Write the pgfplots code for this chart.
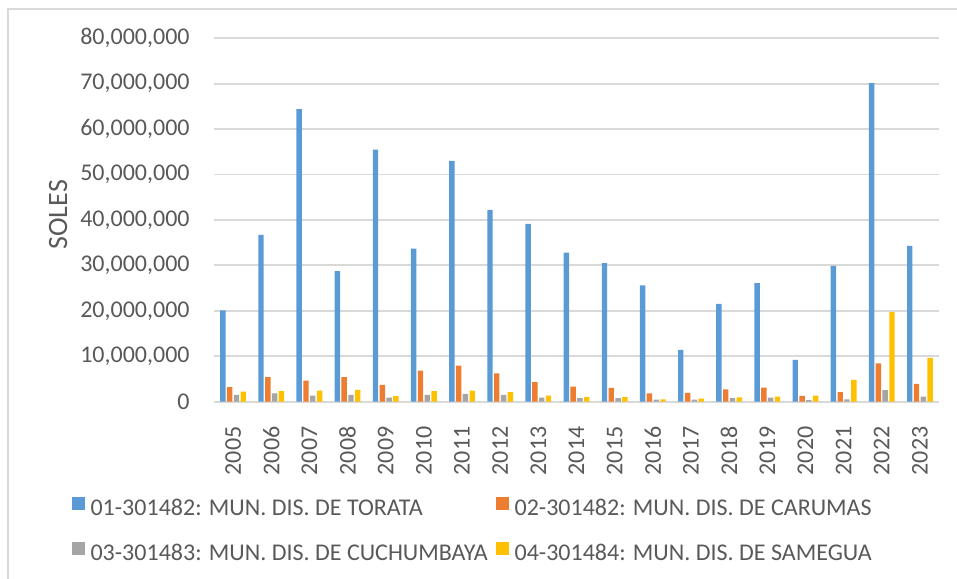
\documentclass[border=0pt]{standalone}
\usepackage{fontspec}
\setmainfont{Carlito}
\usepackage{pgfplots}
\usepackage{pgfplotstable}
\pgfplotsset{compat=1.18}
\definecolor{cBlue}{HTML}{5B9BD5}
\definecolor{cOrange}{HTML}{ED7D31}
\definecolor{cGray}{HTML}{A5A5A5}
\definecolor{cYellow}{HTML}{FFC000}
\definecolor{txt}{HTML}{595959}
\definecolor{grid}{HTML}{D9D9D9}

% idx year torata carumas cuchumbaya samegua (soles)
\pgfplotstableread{
idx year torata   carumas cuchumbaya samegua
0  2005 20100000 3200000 1500000 2200000
1  2006 36700000 5400000 1800000 2300000
2  2007 64400000 4600000 1300000 2400000
3  2008 28700000 5400000 1500000 2600000
4  2009 55500000 3700000 900000  1200000
5  2010 33700000 6800000 1500000 2300000
6  2011 53000000 7900000 1700000 2400000
7  2012 42200000 6200000 1500000 2100000
8  2013 39100000 4300000 900000  1300000
9  2014 32800000 3300000 750000  1000000
10 2015 30500000 3000000 750000  1000000
11 2016 25600000 1800000 450000  500000
12 2017 11400000 1900000 450000  650000
13 2018 21500000 2700000 750000  950000
14 2019 26100000 3100000 900000  1100000
15 2020 9200000  1250000 300000  1300000
16 2021 29900000 2100000 500000  4800000
17 2022 70100000 8400000 2500000 19700000
18 2023 34300000 3900000 1100000 9600000
}\datatable

\begin{document}
\begin{tikzpicture}
\useasboundingbox (0,0) rectangle (478.5pt,289pt);
\draw[grid, line width=0.8pt] (4pt,-5pt) rectangle (485pt,284.5pt);
\begin{axis}[
  at={(107pt,88.2pt)}, anchor=south west,
  scale only axis,
  width=362.5pt, height=181.7pt,
  ybar=0.7pt, bar width=2.7pt,
  xmin=-0.5, xmax=18.5,
  ymin=0, ymax=80000000,
  ytick={0,10000000,20000000,30000000,40000000,50000000,60000000,70000000,80000000},
  xtick={0,...,18},
  xticklabels={2005,2006,2007,2008,2009,2010,2011,2012,2013,2014,2015,2016,2017,2018,2019,2020,2021,2022,2023},
  scaled y ticks=false,
  /pgf/number format/assume math mode=true,
  yticklabel style={/pgf/number format/fixed, /pgf/number format/precision=0, /pgf/number format/1000 sep={,}, anchor=east, inner sep=0pt},
  xticklabel style={rotate=90, anchor=east, inner sep=0pt},
  xticklabel shift=8pt, yticklabel shift=12pt,
  ticklabel style={font=\fontsize{12}{14}\selectfont, text=txt},
  tick style={draw=none},
  axis x line*=bottom, axis y line*=left,
  x axis line style={draw=grid, line width=1pt},
  y axis line style={draw=none},
  ymajorgrids, grid style={draw=grid, line width=0.9pt},
  ylabel={SOLES},
  every axis y label/.style={at={(axis description cs:-0.215,0.514)}, rotate=90, anchor=center, font=\fontsize{14}{16}\selectfont, text=txt},
  legend columns=2,
  legend cell align=left,
  legend style={at={(axis description cs:-0.197,-0.2625)}, anchor=north west,
    draw=none, fill=none, inner sep=0pt,
    nodes={inner sep=0pt, text height=8pt, text depth=2pt},
    font=\fontsize{12}{14}\selectfont, text=txt, row sep=11.5pt,
    /tikz/every odd column/.append style={column sep=3pt},
    /tikz/every even column/.append style={column sep=4pt}},
  legend image code/.code={\fill[#1] (0pt,-0.5pt) rectangle (6.5pt,6pt);},
  every axis plot/.append style={draw=none},
]
\addplot[fill=cBlue] table[x=idx, y=torata] {\datatable};
\addplot[fill=cOrange] table[x=idx, y=carumas] {\datatable};
\addplot[fill=cGray] table[x=idx, y=cuchumbaya] {\datatable};
\addplot[fill=cYellow] table[x=idx, y=samegua] {\datatable};
\legend{01-301482: MUN. DIS. DE TORATA, 02-301482: MUN. DIS. DE CARUMAS, 03-301483: MUN. DIS. DE CUCHUMBAYA, 04-301484: MUN. DIS. DE SAMEGUA}
\end{axis}
\end{tikzpicture}
\end{document}
